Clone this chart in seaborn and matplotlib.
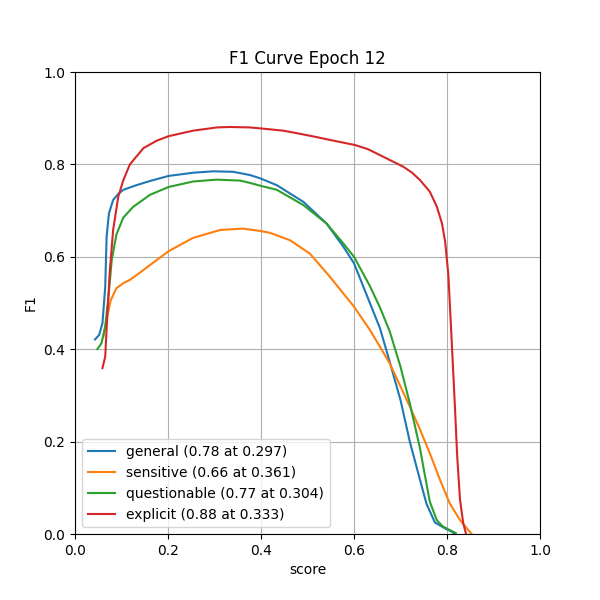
import matplotlib
matplotlib.use("Agg")
import matplotlib.pyplot as plt
import seaborn as sns
import pandas as pd

title = "F1 Curve Epoch 12"
series_names = ["general", "sensitive", "questionable", "explicit"]
legend_labels = ["general (0.78 at 0.297)", "sensitive (0.66 at 0.361)",
                 "questionable (0.77 at 0.304)", "explicit (0.88 at 0.333)"]

general_x = [0.043, 0.052, 0.059, 0.065, 0.068, 0.073, 0.082, 0.093, 0.104, 0.132, 0.161,
             0.201, 0.254, 0.297, 0.340, 0.376, 0.398, 0.434, 0.491, 0.541, 0.577, 0.600,
             0.627, 0.656, 0.677, 0.700, 0.720, 0.742, 0.756, 0.774, 0.796, 0.810, 0.817]
general_y = [0.421, 0.431, 0.456, 0.535, 0.644, 0.694, 0.723, 0.736, 0.745, 0.755, 0.764,
             0.775, 0.782, 0.785, 0.784, 0.777, 0.770, 0.755, 0.719, 0.672, 0.622, 0.586,
             0.518, 0.445, 0.372, 0.290, 0.200, 0.117, 0.065, 0.025, 0.012, 0.005, 0.000]

sensitive_x = [0.061, 0.069, 0.077, 0.089, 0.104, 0.118, 0.140, 0.161, 0.201, 0.254, 0.312,
               0.361, 0.398, 0.419, 0.462, 0.505, 0.548, 0.600, 0.634, 0.656, 0.677, 0.720,
               0.742, 0.763, 0.785, 0.806, 0.828, 0.853]
sensitive_y = [0.427, 0.470, 0.506, 0.532, 0.543, 0.550, 0.566, 0.582, 0.612, 0.641, 0.658,
               0.661, 0.656, 0.652, 0.636, 0.607, 0.557, 0.492, 0.442, 0.405, 0.369, 0.276,
               0.226, 0.175, 0.117, 0.066, 0.030, 0.000]

questionable_x = [0.048, 0.057, 0.065, 0.072, 0.079, 0.089, 0.104, 0.125, 0.161, 0.201, 0.254,
                  0.304, 0.355, 0.376, 0.398, 0.434, 0.491, 0.541, 0.577, 0.600, 0.634, 0.656,
                  0.677, 0.700, 0.720, 0.742, 0.749, 0.763, 0.778, 0.790, 0.803, 0.819]
questionable_y = [0.400, 0.413, 0.449, 0.514, 0.593, 0.648, 0.685, 0.708, 0.734, 0.751, 0.763,
                  0.767, 0.765, 0.760, 0.754, 0.745, 0.712, 0.672, 0.629, 0.600, 0.537, 0.490,
                  0.438, 0.362, 0.283, 0.185, 0.146, 0.070, 0.030, 0.017, 0.010, 0.002]

explicit_x = [0.059, 0.065, 0.069, 0.075, 0.082, 0.093, 0.104, 0.118, 0.147, 0.175, 0.201,
              0.254, 0.305, 0.333, 0.376, 0.398, 0.448, 0.480, 0.520, 0.548, 0.602, 0.630,
              0.656, 0.680, 0.706, 0.725, 0.742, 0.763, 0.778, 0.789, 0.796, 0.803, 0.810,
              0.817, 0.822, 0.828, 0.835, 0.841]
explicit_y = [0.359, 0.384, 0.463, 0.571, 0.658, 0.730, 0.766, 0.800, 0.835, 0.851, 0.861,
              0.873, 0.880, 0.881, 0.880, 0.878, 0.873, 0.867, 0.859, 0.853, 0.842, 0.833,
              0.820, 0.808, 0.795, 0.782, 0.766, 0.741, 0.709, 0.673, 0.633, 0.560, 0.420,
              0.276, 0.167, 0.074, 0.023, 0.000]

xs = [general_x, sensitive_x, questionable_x, explicit_x]
ys = [general_y, sensitive_y, questionable_y, explicit_y]
colors = ["#1f77b4", "#ff7f0e", "#2ca02c", "#d62728"]

fig, ax = plt.subplots(figsize=(6, 6), dpi=100)
for lab, x, y, c in zip(legend_labels, xs, ys, colors):
    df = pd.DataFrame({"score": x, "F1": y})
    sns.lineplot(data=df, x="score", y="F1", ax=ax, color=c, label=lab,
                 linewidth=1.5, sort=False, estimator=None)

ax.set_xlim(0, 1)
ax.set_ylim(0, 1)
ax.set_xticks([0, 0.2, 0.4, 0.6, 0.8, 1.0])
ax.set_yticks([0, 0.2, 0.4, 0.6, 0.8, 1.0])
ax.grid(True)
ax.set_title(title)
ax.set_xlabel("score")
ax.set_ylabel("F1")
ax.legend(loc="lower left")
fig.savefig("out.png", dpi=100)
